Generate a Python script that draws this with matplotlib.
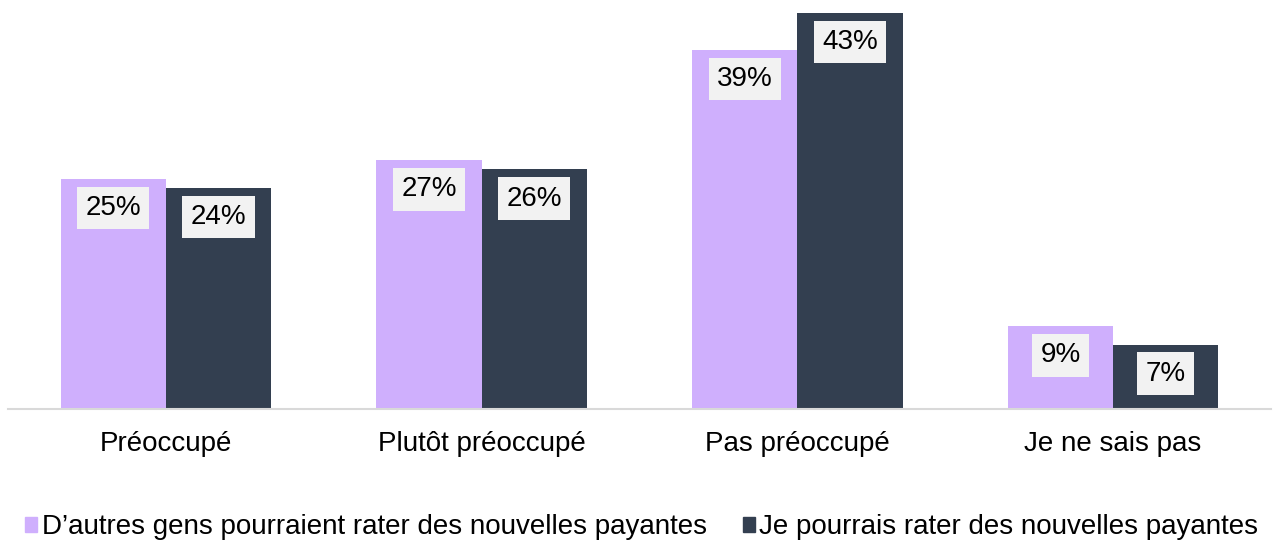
import matplotlib
matplotlib.use('Agg')
import matplotlib.pyplot as plt
from matplotlib.patches import Patch
import numpy as np

categories = ['Préoccupé', 'Plutôt préoccupé', 'Pas préoccupé', 'Je ne sais pas']
series_names = ['D\u2019autres gens pourraient rater des nouvelles payantes',
                'Je pourrais rater des nouvelles payantes']
others = [25, 27, 39, 9]
me = [24, 26, 43, 7]
colors = ['#CFAFFD', '#333F50']

plt.rcParams['font.family'] = ['Liberation Sans', 'DejaVu Sans']

fig = plt.figure(figsize=(12.73, 5.41), dpi=100)
ax = fig.add_axes([0.0063, 0.244, 0.9921, 0.756])

x = np.arange(len(categories))
w = 1 / 3
for vals, col, off in [(others, colors[0], -w / 2), (me, colors[1], w / 2)]:
    bars = ax.bar(x + off, vals, width=w, color=col)
    for b, v in zip(bars, vals):
        ax.annotate(f'{v}%', (b.get_x() + b.get_width() / 2, b.get_height()),
                    xytext=(0, -21), textcoords='offset points',
                    ha='center', va='center', fontsize=20, color='black',
                    bbox=dict(boxstyle='square,pad=0.3', fc='#F2F2F2', ec='none'))

ax.set_xlim(-0.5, 3.5)
ax.set_ylim(0, 44.4)
ax.set_xticks(x)
ax.set_xticklabels(categories, fontsize=20)
ax.tick_params(axis='x', length=0, pad=16)
ax.set_yticks([])
for s in ['top', 'right', 'left']:
    ax.spines[s].set_visible(False)
ax.spines['bottom'].set_color('#D9D9D9')
ax.spines['bottom'].set_linewidth(1.5)

handles = [Patch(color=c) for c in colors]
fig.legend(handles, series_names, loc='center', bbox_to_anchor=(0.504, 0.026),
           ncol=2, frameon=False, fontsize=20, handlelength=0.45, handleheight=0.45,
           handletextpad=0.15, columnspacing=1.3, borderaxespad=0, borderpad=0)

fig.savefig('out.png', dpi=100)
